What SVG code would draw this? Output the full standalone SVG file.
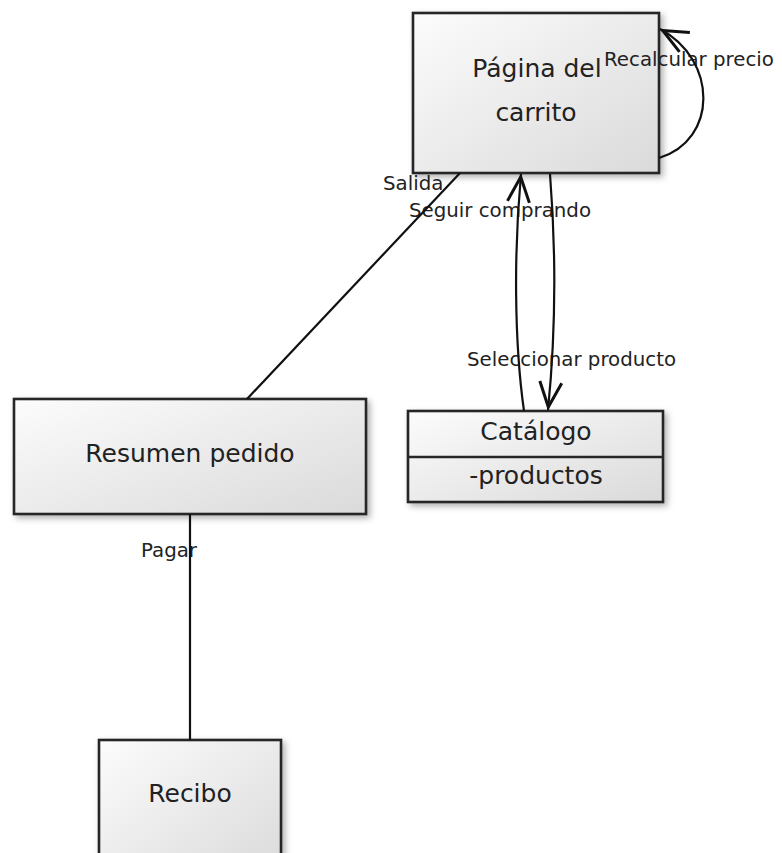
<svg xmlns="http://www.w3.org/2000/svg" width="782" height="853" viewBox="0 0 782 853">
  <defs>
    <linearGradient id="boxFill" x1="0" y1="0" x2="1" y2="1">
      <stop offset="0" stop-color="#fcfcfc"/>
      <stop offset="1" stop-color="#dadada"/>
    </linearGradient>
    <filter id="shadow" x="-10%" y="-10%" width="130%" height="130%">
      <feDropShadow dx="3" dy="3" stdDeviation="3" flood-color="#000" flood-opacity="0.3"/>
    </filter>
    <marker id="openArrow" viewBox="-30 -15 36 30" refX="3" refY="0" markerWidth="36" markerHeight="30" markerUnits="userSpaceOnUse" orient="auto">
      <path d="M-25,-11 L0,0 L-25,11" fill="none" stroke="#111" stroke-width="3"/>
    </marker>
  </defs>
  <style>
    .box { fill: url(#boxFill); stroke: #262626; stroke-width: 2.6; filter: url(#shadow); }
    .sep { stroke: #262626; stroke-width: 2.6; }
    .name { font-family: "DejaVu Sans", Verdana, sans-serif; font-size: 25px; fill: #222222; text-anchor: middle; }
    .label { font-family: "DejaVu Sans", Verdana, sans-serif; font-size: 19.8px; fill: #222222; }
    .edge { fill: none; stroke: #111; stroke-width: 2.2; }
  </style>

  <rect width="782" height="853" fill="#ffffff"/>

  <!-- Nodes -->
  <g id="node-carrito">
    <rect class="box" x="413" y="13" width="246" height="160"/>
    <text class="name" x="537" y="77">Página del</text>
    <text class="name" x="536" y="121">carrito</text>
  </g>

  <g id="node-catalogo">
    <rect class="box" x="408" y="411" width="255" height="91"/>
    <line class="sep" x1="408" y1="457" x2="663" y2="457"/>
    <text class="name" x="536" y="440">Catálogo</text>
    <text class="name" x="536" y="484">-productos</text>
  </g>

  <g id="node-resumen">
    <rect class="box" x="14" y="399" width="352" height="115"/>
    <text class="name" x="190" y="462">Resumen pedido</text>
  </g>

  <g id="node-recibo">
    <rect class="box" x="99" y="740" width="182" height="135"/>
    <text class="name" x="190" y="802">Recibo</text>
  </g>

  <!-- Connector labels -->
  <g id="labels">
    <text class="label" x="604" y="66">Recalcular precio</text>
    <text class="label" x="383" y="190">Salida</text>
    <text class="label" x="409" y="217">Seguir comprando</text>
    <text class="label" x="467" y="366">Seleccionar producto</text>
    <text class="label" x="141" y="557">Pagar</text>
  </g>

  <!-- Connectors -->
  <g id="connectors">
    <path class="edge" d="M460,173 L247,399"/>
    <path class="edge" d="M190,514 L190,740"/>
    <path class="edge" d="M524,411 C514,340 514,250 521,174" marker-end="url(#openArrow)"/>
    <path class="edge" d="M550,174 C556,250 556,330 548,410" marker-end="url(#openArrow)"/>
    <path class="edge" d="M659,158 C718,140 718,60 660,29" marker-end="url(#openArrow)"/>
  </g>
</svg>
